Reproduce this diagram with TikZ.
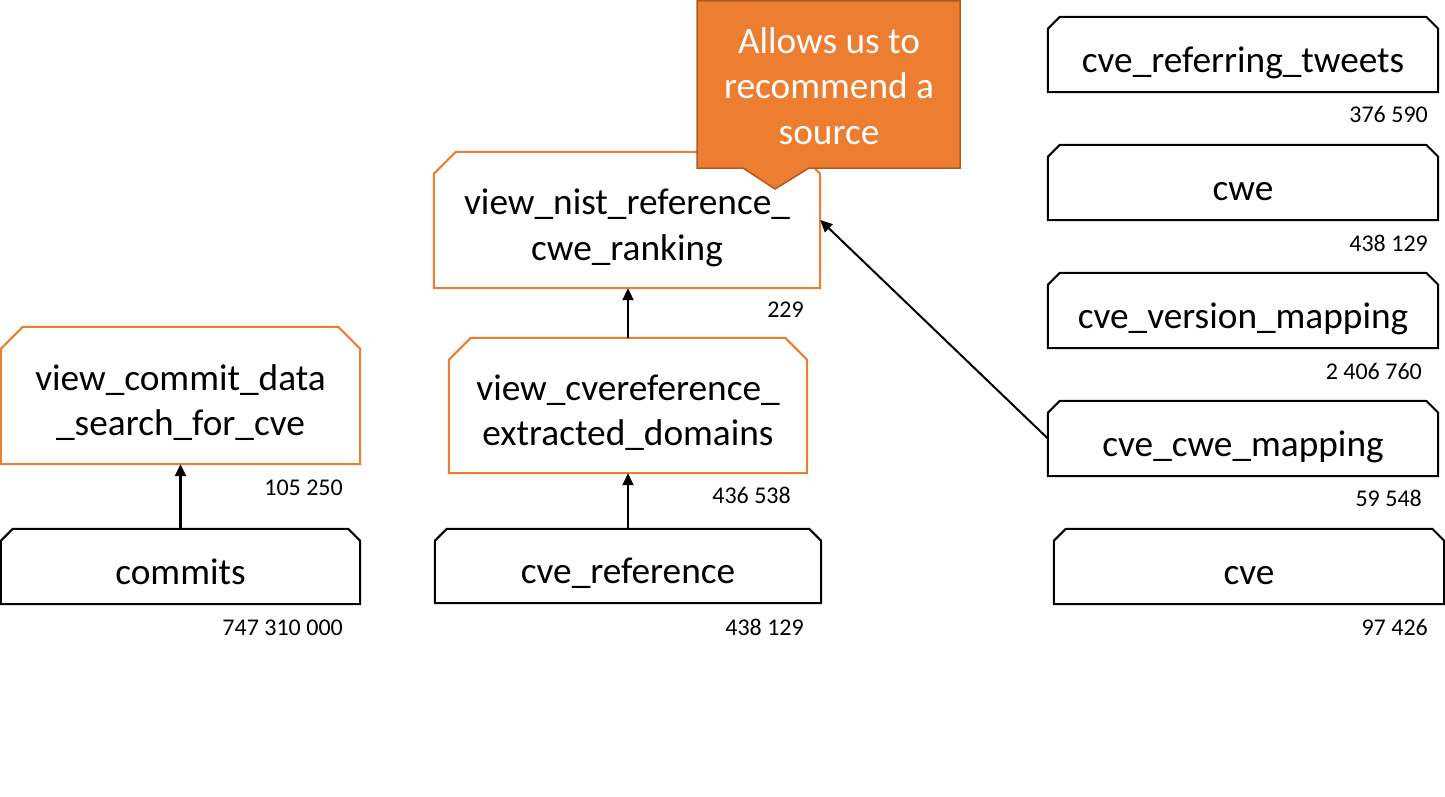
\documentclass[tikz,border=0pt]{standalone}
\usepackage{fontspec}
\setmainfont{Carlito}
\usetikzlibrary{arrows.meta,calc}
\definecolor{orng}{HTML}{ED7D31}
\definecolor{orngdark}{HTML}{AE5A21}
\newcommand\boxline[1]{\rule[-0.02em]{0pt}{0.98em}\smash{#1}}
\tikzset{
  tbox/.style={shape=rectangle, inner sep=0pt, align=center,
    font=\fontsize{37.3bp}{45.5bp}\selectfont},
  cnt/.style={font=\fontsize{24bp}{29bp}\selectfont, anchor=base east, inner sep=0pt},
  conn/.style={draw=black, line width=2bp, -{Triangle[length=12bp,width=11bp]}},
  thickconn/.style={conn, line width=3bp},
}
\newcommand\snipdraw[3]{%
  \draw[line width=2bp, draw=#3, line join=miter]
    (#1.south west) -- ($(#1.north west)+(0,#2)$) -- ($(#1.north west)+(#2,0)$)
    -- ($(#1.north east)+(-#2,0)$) -- ($(#1.north east)+(0,#2)$) -- (#1.south east) -- cycle;}
\begin{document}
\begin{tikzpicture}[x=1bp,y=-1bp]
\useasboundingbox (0,0) rectangle (1445,796);
\fill[white] (0,0) rectangle (1445,796);

% left column
\node[tbox, minimum width=359bp, minimum height=137bp] (vcd) at (180.5,395.5)
  {\boxline{view\_commit\_data}\\\boxline{\_search\_for\_cve}};
\snipdraw{vcd}{22}{orng}
\node[cnt] (nvcd) at (343,495) {105 250};

\node[tbox, minimum width=359bp, minimum height=75bp] (commits) at (180.5,566.5)
  {\boxline{commits}};
\snipdraw{commits}{12}{black}
\node[cnt] (ncommits) at (343,635) {747 310 000};

% middle column
\node[tbox, minimum width=386bp, minimum height=136bp] (nist) at (627,220)
  {\boxline{view\_nist\_reference\_}\\\boxline{cwe\_ranking}};
\snipdraw{nist}{22}{orng}
\node[cnt] (nnist) at (804,317) {229};

\node[tbox, minimum width=358bp, minimum height=135bp] (dom) at (628,405.5)
  {\boxline{view\_cvereference\_}\\\boxline{extracted\_domains}};
\snipdraw{dom}{22}{orng}
\node[cnt] (ndom) at (791,503) {436 538};

\node[tbox, minimum width=386bp, minimum height=74bp] (ref) at (628,566)
  {\boxline{cve\_reference}};
\snipdraw{ref}{12}{black}
\node[cnt] (nref) at (804,635) {438 129};

% right column
\node[tbox, minimum width=390bp, minimum height=75bp] (tweets) at (1243,54.5)
  {\boxline{cve\_referring\_tweets}};
\snipdraw{tweets}{12}{black}
\node[cnt] (ntweets) at (1428,122) {376 590};

\node[tbox, minimum width=390bp, minimum height=75bp] (cwe) at (1243,182.5)
  {\boxline{cwe}};
\snipdraw{cwe}{12}{black}
\node[cnt] (ncwe) at (1428,251) {438 129};

\node[tbox, minimum width=390bp, minimum height=75bp] (ver) at (1243,310.5)
  {\boxline{cve\_version\_mapping}};
\snipdraw{ver}{12}{black}
\node[cnt] (nver) at (1422,379) {2 406 760};

\node[tbox, minimum width=390bp, minimum height=75bp] (map) at (1243,438.5)
  {\boxline{cve\_cwe\_mapping}};
\snipdraw{map}{12}{black}
\node[cnt] (nmap) at (1422,506) {59 548};

\node[tbox, minimum width=390bp, minimum height=75bp] (cve) at (1249,566.5)
  {\boxline{cve}};
\snipdraw{cve}{12}{black}
\node[cnt] (ncve) at (1428,635) {97 426};

% connectors
\draw[thickconn] (commits.north) -- (vcd.south);
\draw[conn] (ref.north) -- (dom.south);
\draw[conn] (dom.north) -- (dom.north |- nist.south);
\draw[conn] (map.west) -- (nist.east);

% callout
\fill[orng, draw=orngdark, line width=1.5bp, line join=miter]
  (697,1) -- (960,1) -- (960,168) -- (809,168) -- (775,189) -- (743,168) -- (697,168) -- cycle;
\node[tbox, text=white] (note) at (829,81.3)
  {\boxline{Allows us to}\\\boxline{recommend a}\\\boxline{source}};
\end{tikzpicture}
\end{document}
